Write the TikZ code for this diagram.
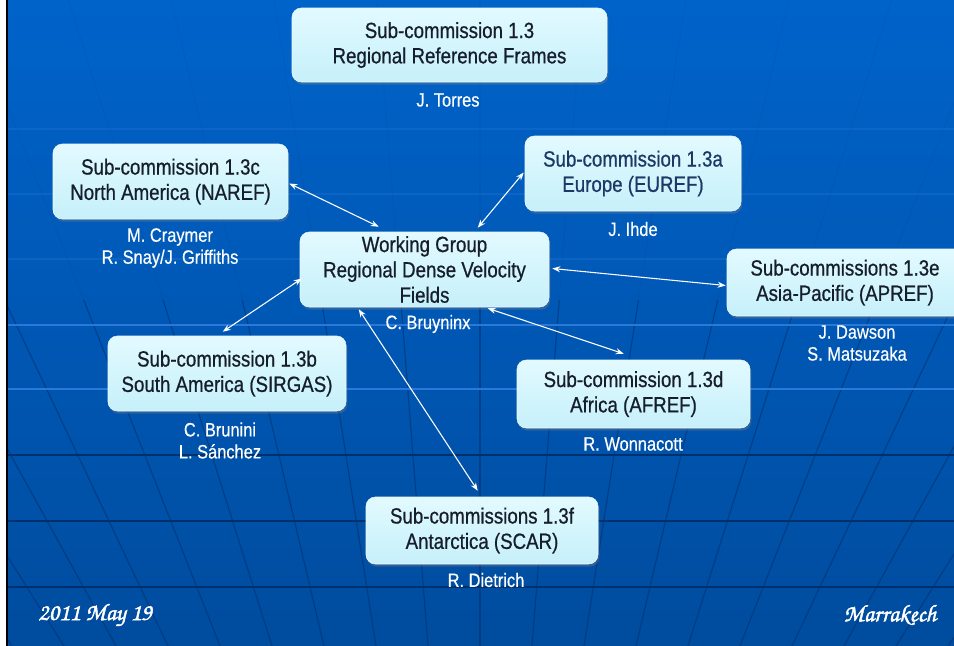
\documentclass[tikz,border=0pt]{standalone}
\usepackage{fontspec}
\setmainfont{Liberation Sans}[FakeStretch=0.85]
\newfontfamily\boxfont{Liberation Sans}[FakeStretch=0.85, FakeBold=0.7]
\newfontfamily\whofont{Liberation Sans}[FakeStretch=0.85, FakeBold=0.4]
\newfontfamily\scriptfnt{TeX Gyre Chorus}[FakeBold=1.8]
\usetikzlibrary{arrows.meta,calc,shadows}
\definecolor{bgtop}{HTML}{0063CA}
\definecolor{bgbot}{HTML}{004C9E}
\definecolor{boxtop}{HTML}{E2FAFF}
\definecolor{boxbot}{HTML}{C6F0FA}
\definecolor{boxtext}{HTML}{161E2C}
\definecolor{eutext}{HTML}{1C3866}
\definecolor{gridd}{HTML}{00306E}
\definecolor{gridl}{HTML}{2A78DA}
\begin{document}
\begin{tikzpicture}[x=0.75pt,y=-0.75pt,
  box/.style={rounded corners=7pt, top color=boxtop, bottom color=boxbot,
    draw=white!60!boxbot, line width=0.4pt, align=center, text=boxtext,
    font=\boxfont\fontsize{16.5}{19}\selectfont, inner sep=0pt,
    drop shadow={shadow xshift=1pt, shadow yshift=-2pt, opacity=0.35}},
  who/.style={align=center, text=white, font=\whofont\fontsize{14.5}{16.5}\selectfont, inner sep=0pt},
  link/.style={draw=white, line width=0.8pt,
    {Stealth[length=6pt,width=4.5pt]}-{Stealth[length=6pt,width=4.5pt]}},
  scripttext/.style={text=white, inner sep=0pt, font=\scriptfnt\fontsize{18}{18}\selectfont}
]
\useasboundingbox (0,0) rectangle (954,646);
% background
\fill[white] (0,0) rectangle (954,646);
\shade[top color=bgtop, bottom color=bgbot] (8,0) rectangle (954,646);
\begin{scope}
  \clip (8,0) rectangle (954,646);
  \foreach \k in {-10,...,10} {
    \pgfmathsetmacro\xa{480+102.9*\k}
    \pgfmathsetmacro\xb{480+79.25*\k}
    \pgfmathsetmacro\xc{480+52*\k}
    \draw[gridd, opacity=0.08, line width=0.8pt] (\xa,0) -- (\xb,300);
    \draw[gridd, opacity=0.55, line width=0.9pt] (\xb,300) -- (\xc,646);
  }
  \foreach \yy in {129,194,259} \draw[gridl, opacity=0.3, line width=1pt] (8,\yy) -- (954,\yy);
  \foreach \yy in {325,389} \draw[gridl, line width=1.2pt] (8,\yy) -- (954,\yy);
  \foreach \yy in {455,521,587} \draw[gridd, line width=1.4pt] (8,\yy) -- (954,\yy);
\end{scope}
\fill[black] (6,0) rectangle (8,646);

% boxes
\node[box, minimum width=236.25pt, minimum height=55.5pt] (top) at (449.5,45)
  {Sub-commission 1.3\\Regional Reference Frames};
\node[box, minimum width=176.25pt, minimum height=56.25pt] (naref) at (170.5,181.5)
  {Sub-commission 1.3c\\North America (NAREF)};
\node[box, minimum width=162pt, minimum height=56.25pt, text=eutext] (euref) at (633,173.5)
  {Sub-commission 1.3a\\Europe (EUREF)};
\node[box, minimum width=186.75pt, minimum height=56.25pt] (wg) at (424.5,269.5)
  {Working Group\\Regional Dense Velocity\\Fields};
\node[box, minimum width=177pt, minimum height=50.25pt] (apref) at (845,282.5)
  {Sub-commissions 1.3e\\Asia-Pacific (APREF)};
\node[box, minimum width=178.5pt, minimum height=56.25pt] (sirgas) at (227,373.5)
  {Sub-commission 1.3b\\South America (SIRGAS)};
\node[box, minimum width=174.75pt, minimum height=51pt] (afref) at (633.5,394)
  {Sub-commission 1.3d\\Africa (AFREF)};
\node[box, minimum width=174pt, minimum height=50.25pt] (scar) at (482,530.5)
  {Sub-commissions 1.3f\\Antarctica (SCAR)};

% people
\node[who] (pTop) at (448,100) {J. Torres};
\node[who] (pNa) at (170,248) {M. Craymer\\R. Snay/J. Griffiths};
\node[who] (pEu) at (633,229) {J. Ihde};
\node[who] (pWg) at (428,324) {C. Bruyninx};
\node[who] (pAp) at (857,343) {J. Dawson\\S. Matsuzaka};
\node[who] (pSa) at (220,440.5) {C. Brunini\\L. Sánchez};
\node[who] (pAf) at (633,444) {R. Wonnacott};
\node[who] (pAn) at (486,580) {R. Dietrich};

% connectors
\draw[link] ($(naref.east)+(1,2)$) -- ($(wg.north west)+(79,-5)$);
\draw[link] ($(euref.west)+(-1,-1)$) -- ($(wg.north west)+(178,-4)$);
\draw[link] ($(wg.east)+(3,-1)$) -- ($(apref.west)+(-1,3)$);
\draw[link] ($(wg.west)+(2,9)$) -- ($(sirgas.north west)+(115,-4)$);
\draw[link] ($(wg.south west)+(188,1)$) -- ($(afref.north west)+(107,-6)$);
\draw[link] ($(wg.south west)+(59,2)$) -- ($(scar.north west)+(112,-6)$);

% footer
\node[scripttext] (date) at (95,615) {2011 May 19};
\node[scripttext] (place) at (890,615) {Marrakech};
\end{tikzpicture}
\end{document}
